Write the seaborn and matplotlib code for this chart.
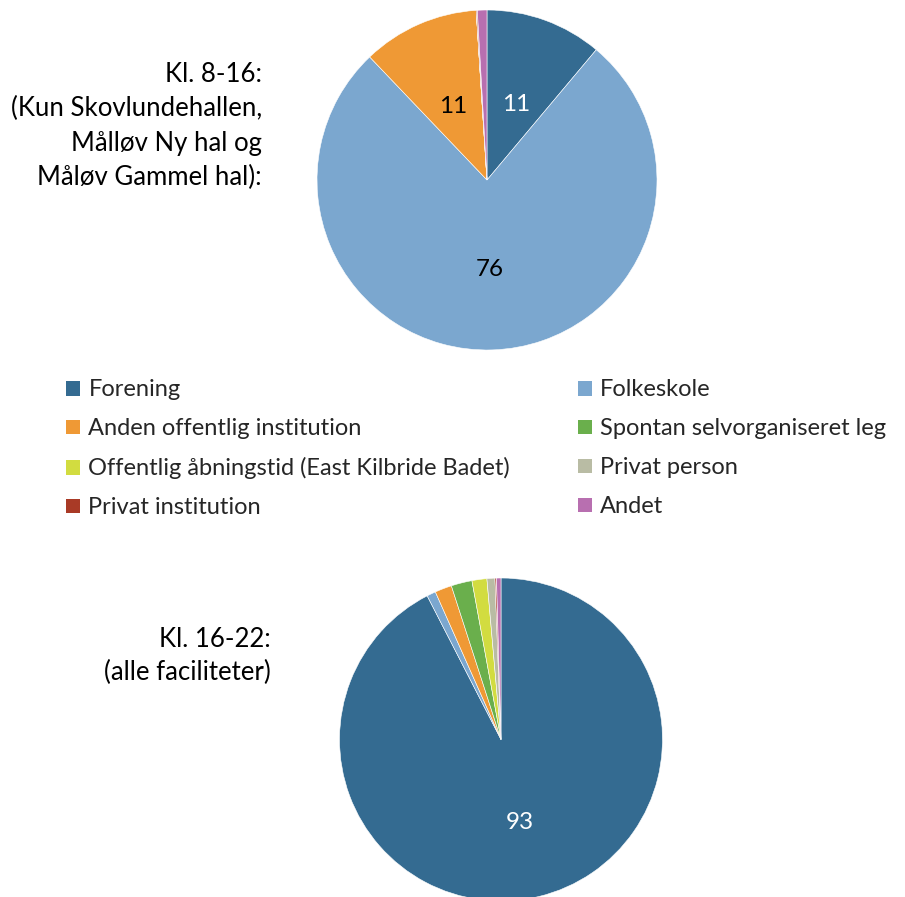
import matplotlib
matplotlib.use("Agg")
import matplotlib.pyplot as plt
import seaborn as sns
import numpy as np
from matplotlib.patches import Patch

categories = ["Forening", "Folkeskole", "Anden offentlig institution",
              "Spontan selvorganiseret leg",
              "Offentlig åbningstid (East Kilbride Badet)", "Privat person",
              "Privat institution", "Andet"]
values_8_16 = [11, 76, 11, 0, 0, 0, 0.1, 0.9]
values_16_22 = [93, 0.9, 1.7, 2.1, 1.5, 0.8, 0.15, 0.45]
title_8_16 = "Kl. 8-16:\n(Kun Skovlundehallen,\nMålløv Ny hal og\nMåløv Gammel hal):"
title_16_22 = "Kl. 16-22:\n(alle faciliteter)"
colors = ["#346B91", "#7BA7CF", "#EF9935", "#6AAF4C", "#D2DC40", "#B9BCA4",
          "#A93A26", "#B86FB0"]
label_colors = ["white", "black", "black", "black", "black", "black", "black", "black"]

sns.set_theme(style="white")
plt.rcParams['font.family'] = ['Lato', 'DejaVu Sans']

W, H = 905, 897
fig = plt.figure(figsize=(W / 100, H / 100), dpi=100)


def add_pie(cx, cy, r, vals):
    ax = fig.add_axes([(cx - r) / W, (H - cy - r) / H, 2 * r / W, 2 * r / H])
    total = sum(vals)
    wedges, _ = ax.pie(vals, colors=colors, startangle=90, counterclock=False,
                       radius=1, wedgeprops=dict(edgecolor="white", linewidth=0.4))
    for w, v, c in zip(wedges, vals, label_colors):
        if v / total * 100 >= 5:
            ang = np.deg2rad((w.theta1 + w.theta2) / 2)
            ax.text(0.5 * np.cos(ang), 0.5 * np.sin(ang) - 0.025, f"{v:.0f}",
                    ha="center", va="center", fontsize=17.5, color=c)
    ax.set_xlim(-1, 1)
    ax.set_ylim(-1, 1)
    ax.set_aspect("equal")
    ax.axis("off")
    return wedges


add_pie(487, 180, 170, values_8_16)
add_pie(501, 739.5, 161.5, values_16_22)

fig.text(262 / W, 1 - 126 / H, title_8_16, ha="right", va="center",
         fontsize=18.5, linespacing=1.45, color="black")
fig.text(271 / W, 1 - 656 / H, title_16_22, ha="right", va="center",
         fontsize=18.5, linespacing=1.4, color="black")

order = [0, 2, 4, 6, 1, 3, 5, 7]
handles = [Patch(facecolor=colors[i], edgecolor="none") for i in order]
labels = [categories[i] for i in order]
fig.legend(handles, labels, ncol=2, loc="upper left",
           bbox_to_anchor=(57 / W, 1 - 370 / H), frameon=False, fontsize=17,
           handlelength=0.59, handleheight=0.59, handletextpad=0.34,
           labelspacing=0.76, columnspacing=2.88, borderaxespad=0)

fig.savefig("out.png", dpi=100)
